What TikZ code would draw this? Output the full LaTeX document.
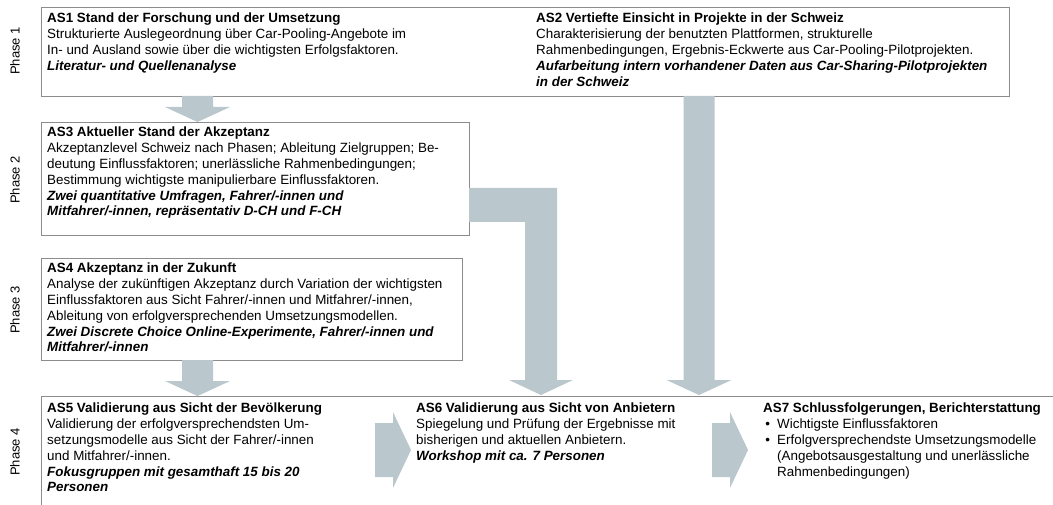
\documentclass[tikz,border=0pt]{standalone}
\usepackage{fontspec}
\setmainfont{Liberation Sans}
\definecolor{blk}{RGB}{186,199,205}
\definecolor{boxline}{RGB}{140,140,140}
\newcommand{\DnArrow}[3]{% center x, top y, tip y
  \fill[blockarrow] ({#1-15.5},#2) -- ({#1+15.5},#2) -- ({#1+15.5},{#3-15}) -- ({#1+32.5},{#3-15})
    -- (#1,#3) -- ({#1-32.5},{#3-15}) -- ({#1-15.5},{#3-15}) -- cycle;}
\newcommand{\RtArrow}[2]{% left x, center y
  \fill[blockarrow] (#1,{#2-27}) -- ({#1+18},{#2-27}) -- ({#1+18},{#2-38}) -- ({#1+36},#2)
    -- ({#1+18},{#2+38}) -- ({#1+18},{#2+27}) -- (#1,{#2+27}) -- cycle;}
\begin{document}
\begin{tikzpicture}[x=1pt,y=-1pt,
  box/.style={draw=boxline, line width=1pt, anchor=north west, inner sep=0pt},
  txt/.style={anchor=north west, inner sep=0pt, align=left, font=\fontsize{13.4}{15.8}\selectfont},
  phase/.style={rotate=90, font=\fontsize{13}{15}\selectfont, inner sep=0pt},
  blockarrow/.style={fill=blk, draw=none}]
\useasboundingbox (0,0) rectangle (1053,505);

% boxes
\node[box, minimum width=968pt, minimum height=89pt] (as1box) at (41,7) {};
\node[box, minimum width=428pt, minimum height=113pt] (as3box) at (41,122) {};
\node[box, minimum width=421pt, minimum height=102pt] (as4box) at (41,258) {};
\coordinate (p4tr) at (1053,396);
\coordinate (p4bl) at (41,505);
\draw[draw=boxline, line width=1pt] (p4tr) -- (p4tr -| p4bl) -- (p4bl);

% block arrows
\DnArrow{197.5}{96}{122}
\DnArrow{197.5}{360}{396}
\DnArrow{699}{96}{395}
\fill[blockarrow] (469,188) -- (557,188) -- (557,380) -- (573,380) -- (541,395)
  -- (509,380) -- (525,380) -- (525,222) -- (469,222) -- cycle;
\RtArrow{375}{450}
\RtArrow{712}{450}

% phase labels
\node[phase] (ph1) at (15,51) {Phase 1};
\node[phase] (ph2) at (15,180) {Phase 2};
\node[phase] (ph3) at (15,310) {Phase 3};
\node[phase] (ph4) at (15,452) {Phase 4};

% texts
\node[txt] (as1) at (47,13) {\textbf{AS1 Stand der Forschung und der Umsetzung}\\
Strukturierte Auslegeordnung über Car-Pooling-Angebote im\\
In- und Ausland sowie über die wichtigsten Erfolgsfaktoren.\\
\textbf{\textit{Literatur- und Quellenanalyse}}};

\node[txt] (as2) at (536,13) {\textbf{AS2 Vertiefte Einsicht in Projekte in der Schweiz}\\
Charakterisierung der benutzten Plattformen, strukturelle\\
Rahmenbedingungen, Ergebnis-Eckwerte aus Car-Pooling-Pilotprojekten.\\
\textbf{\textit{Aufarbeitung intern vorhandener Daten aus Car-Sharing-Pilotprojekten}}\\
\textbf{\textit{in der Schweiz}}};

\node[txt] (as3) at (47,127) {\textbf{AS3 Aktueller Stand der Akzeptanz}\\
Akzeptanzlevel Schweiz nach Phasen; Ableitung Zielgruppen; Be-\\
deutung Einflussfaktoren; unerlässliche Rahmenbedingungen;\\
Bestimmung wichtigste manipulierbare Einflussfaktoren.\\
\textbf{\textit{Zwei quantitative Umfragen, Fahrer/-innen und}}\\
\textbf{\textit{Mitfahrer/-innen, repräsentativ D-CH und F-CH}}};

\node[txt] (as4) at (47,263) {\textbf{AS4 Akzeptanz in der Zukunft}\\
Analyse der zukünftigen Akzeptanz durch Variation der wichtigsten\\
Einflussfaktoren aus Sicht Fahrer/-innen und Mitfahrer/-innen,\\
Ableitung von erfolgversprechenden Umsetzungsmodellen.\\
\textbf{\textit{Zwei Discrete Choice Online-Experimente, Fahrer/-innen und}}\\
\textbf{\textit{Mitfahrer/-innen}}};

\node[txt] (as5) at (47,403) {\textbf{AS5 Validierung aus Sicht der Bevölkerung}\\
Validierung der erfolgversprechendsten Um-\\
setzungsmodelle aus Sicht der Fahrer/-innen\\
und Mitfahrer/-innen.\\
\textbf{\textit{Fokusgruppen mit gesamthaft 15 bis 20}}\\
\textbf{\textit{Personen}}};

\node[txt] (as6) at (416,403) {\textbf{AS6 Validierung aus Sicht von Anbietern}\\
Spiegelung und Prüfung der Ergebnisse mit\\
bisherigen und aktuellen Anbietern.\\
\textbf{\textit{Workshop mit ca. 7 Personen}}};

\node[txt] (as7) at (763,403) {\textbf{AS7 Schlussfolgerungen, Berichterstattung}\\
\makebox[14pt][l]{\,•}Wichtigste Einflussfaktoren\\
\makebox[14pt][l]{\,•}Erfolgversprechendste Umsetzungsmodelle\\
\hspace*{14pt}(Angebotsausgestaltung und unerlässliche\\
\hspace*{14pt}Rahmenbedingungen)};
\end{tikzpicture}
\end{document}
